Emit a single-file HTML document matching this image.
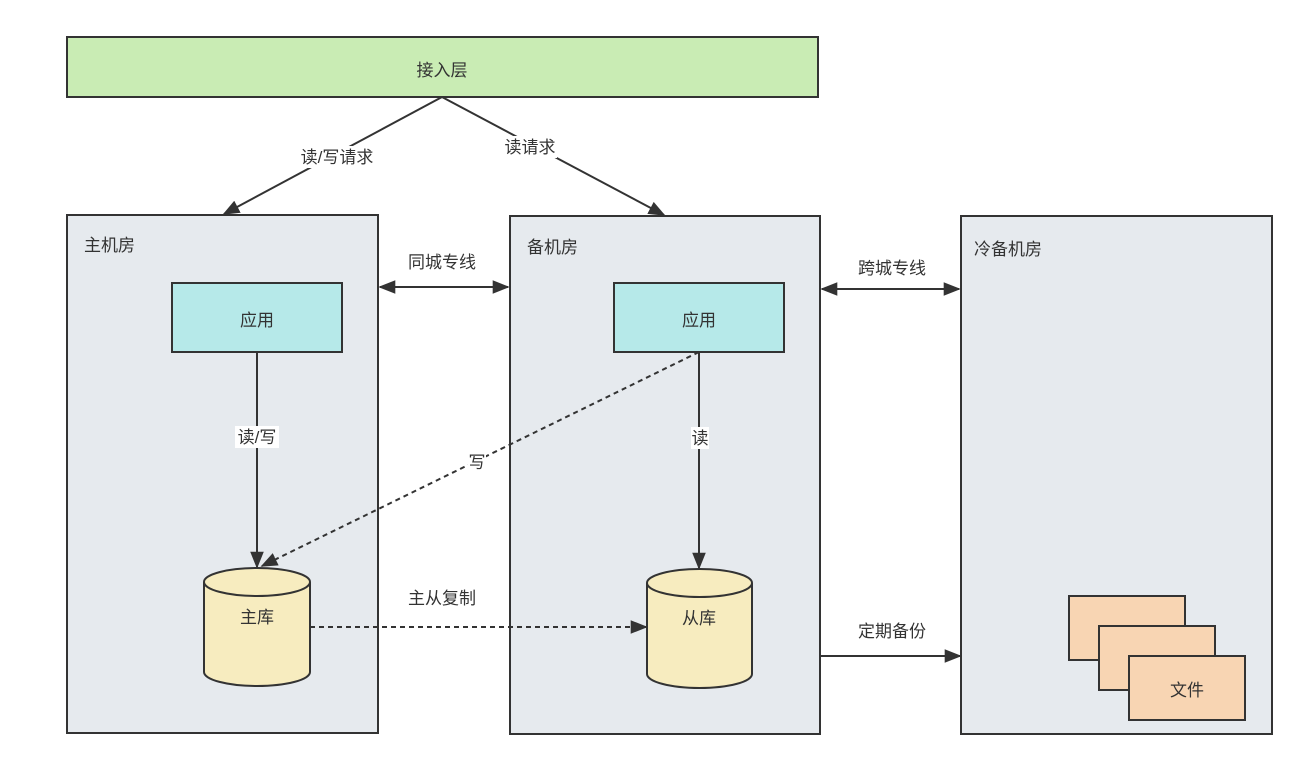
<!DOCTYPE html>
<html><head><meta charset="utf-8"><style>
html,body{margin:0;padding:0;background:#fff}
svg{display:block}
text{font-family:"Liberation Sans","Noto Sans CJK SC",sans-serif;font-size:17px;fill:#333}
</style></head><body>
<svg width="1309" height="772" viewBox="0 0 1309 772" xmlns="http://www.w3.org/2000/svg">
<defs>
<marker id="b" viewBox="0 0 10 10" refX="9" refY="5" markerWidth="17" markerHeight="17" orient="auto-start-reverse" markerUnits="userSpaceOnUse">
<path d="M0,1 L10,5 L0,9 z" fill="#333"/></marker>
</defs>
<g stroke="#333" stroke-width="2">
<rect x="67" y="37" width="751" height="60" fill="#c9ecb4"/>
<rect x="67" y="215" width="311" height="518" fill="#e6eaee"/>
<rect x="510" y="216" width="310" height="518" fill="#e6eaee"/>
<rect x="961" y="216" width="311" height="518" fill="#e6eaee"/>
<rect x="172" y="283" width="170" height="69" fill="#b6e9e9"/>
<rect x="614" y="283" width="170" height="69" fill="#b6e9e9"/>
<path d="M204,582 A53,14 0 0 1 310,582 L310,672 A53,14 0 0 1 204,672 Z" fill="#f7ecbf"/>
<path d="M204,582 A53,14 0 0 0 310,582" fill="none"/>
<path d="M647,583 A52.5,14 0 0 1 752,583 L752,674 A52.5,14 0 0 1 647,674 Z" fill="#f7ecbf"/>
<path d="M647,583 A52.5,14 0 0 0 752,583" fill="none"/>
<rect x="1069" y="596" width="116" height="64" fill="#f8d5b3"/>
<rect x="1099" y="626" width="116" height="64" fill="#f8d5b3"/>
<rect x="1129" y="656" width="116" height="64" fill="#f8d5b3"/>
</g>
<g stroke="#333" stroke-width="2" fill="none">
<line x1="442" y1="97" x2="224" y2="214" marker-end="url(#b)"/>
<line x1="442" y1="97" x2="664" y2="215" marker-end="url(#b)"/>
<line x1="380" y1="287" x2="508" y2="287" marker-start="url(#b)" marker-end="url(#b)"/>
<line x1="822" y1="289" x2="959" y2="289" marker-start="url(#b)" marker-end="url(#b)"/>
<line x1="257" y1="352" x2="257" y2="567" marker-end="url(#b)"/>
<line x1="699" y1="352" x2="699" y2="568" marker-end="url(#b)"/>
<line x1="699" y1="352" x2="262" y2="566" stroke-dasharray="5,4" marker-end="url(#b)"/>
<line x1="310" y1="627" x2="646" y2="627" stroke-dasharray="5,4" marker-end="url(#b)"/>
<line x1="820" y1="656" x2="960" y2="656" marker-end="url(#b)"/>
</g>
<g fill="#fff">
<rect x="298" y="146" width="78" height="22"/>
<rect x="503" y="136" width="54" height="22"/>
<rect x="235" y="426" width="44" height="22"/>
<rect x="691" y="427" width="18" height="22"/>
<rect x="468" y="451" width="18" height="22"/>
</g>
<g text-anchor="middle">
<text x="442" y="76">接入层</text>
<text x="337" y="163">读/写请求</text>
<text x="530" y="153">读请求</text>
<text x="442" y="268">同城专线</text>
<text x="892" y="274">跨城专线</text>
<text x="257" y="326">应用</text>
<text x="699" y="326">应用</text>
<text x="257" y="443">读/写</text>
<text x="700" y="444">读</text>
<text x="477" y="468">写</text>
<text x="442" y="604">主从复制</text>
<text x="257" y="623">主库</text>
<text x="699" y="624">从库</text>
<text x="892" y="637">定期备份</text>
<text x="1187" y="696">文件</text>
</g>
<text x="84" y="251">主机房</text>
<text x="527" y="253">备机房</text>
<text x="974" y="255">冷备机房</text>
</svg>
</body></html>
